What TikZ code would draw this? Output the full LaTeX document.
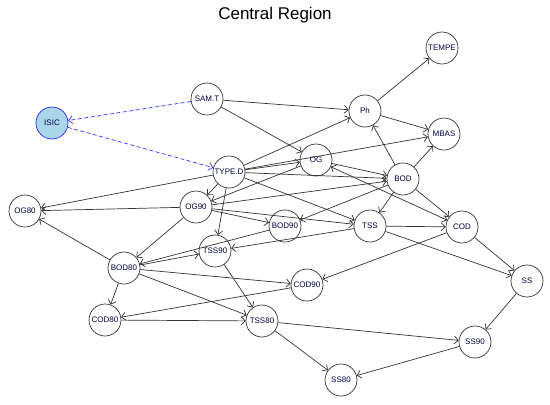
\documentclass[tikz,border=0pt]{standalone}
\usepackage{fontspec}
\setsansfont{Liberation Sans}
\usetikzlibrary{arrows.meta}
\definecolor{isicblue}{RGB}{170,214,234}
\tikzset{xy/.style={x={#1},y={-#1},font={\sffamily\fontsize{8}{9}\selectfont},line width=.7pt}}
\tikzset{var/.style={circle,draw=black!80,fill=white,minimum size=32pt,inner sep=0pt,text=black!75!blue}}
\tikzset{tip/.style={Straight Barb[length=4pt,width=8pt]}}
\tikzset{arc/.style={draw=black!80,-{Straight Barb[length=4pt,width=8pt]}}}
\tikzset{link/.style={draw=blue!80,dash pattern=on 4pt off 2.5pt,-{Straight Barb[length=4pt,width=8pt]}}}

\begin{document}
\begin{tikzpicture}[xy=1pt]%
    \path [use as bounding box] (0,0) rectangle (550,405);
    \path (275,15) node [font={\sffamily\fontsize{17}{20}\selectfont}] (title) {Central Region};
    \foreach \n/\t/\x/\y in {tempe/TEMPE/442/48, samt/SAM.T/207/99, ph/Ph/365/111,
        mbas/MBAS/444/134, og/OG/316/160, typed/TYPE.D/229/172, bod/BOD/403/179,
        og90/OG90/196/207, og80/OG80/25/211, bod90/BOD90/285/226, tss/TSS/370/226,
        cod/COD/462/227, tss90/TSS90/215/251, bod80/BOD80/124/268, cod90/COD90/307/285,
        ss/SS/527/281, cod80/COD80/105/320, tss80/TSS80/262/321, ss90/SS90/475/342,
        ss80/SS80/341/380} {
        \path (\x,\y) node [var] (\n) {\t};
    }
    \path (52,123) node [var,draw=blue!85,fill=isicblue] (isic) {ISIC};
    % learned arcs
    \foreach \a/\b in {samt/ph, samt/og, ph/tempe, ph/mbas, bod/ph, bod/mbas,
        typed/ph, typed/mbas, typed/og, typed/bod, typed/tss, typed/og80,
        typed/og90, typed/tss90, og/og90, og/bod, og90/bod, bod/bod90, bod/tss,
        bod/cod, og90/og80, og90/bod90, og90/tss, og90/bod80, tss/cod, tss/ss,
        tss/tss90, tss90/tss80, bod80/og80, bod80/cod80, bod80/tss80, bod80/cod90,
        bod80/tss90, bod90/bod80, cod/cod90, cod90/cod80, cod80/tss80, cod/ss,
        ss/ss90, tss80/ss90, tss80/ss80, ss90/ss80} {
        \path [arc] (\a) -- (\b);
    }
    \path [draw=black!80,{Straight Barb[length=4pt,width=8pt]}-{Straight Barb[length=4pt,width=8pt]}] (og) -- (cod);
    % whitelisted arcs
    \path [link] (samt) -- (isic);
    \path [link] (isic) -- (typed);
\end{tikzpicture}
\end{document}
